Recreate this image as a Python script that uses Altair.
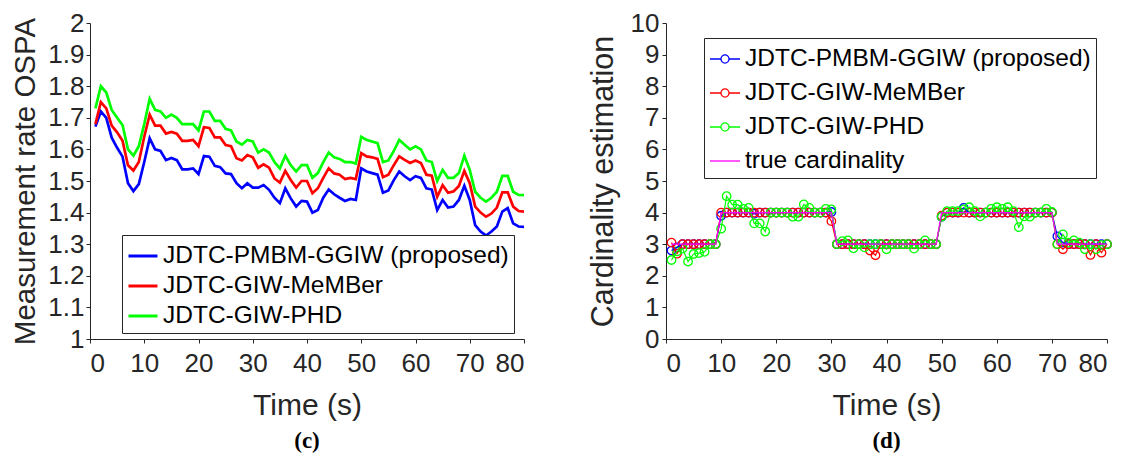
import altair as alt
import pandas as pd

time = list(range(1, 81))

ospa_pmbm = [1.672, 1.72, 1.70, 1.637, 1.605, 1.577, 1.493, 1.468, 1.49, 1.56,
             1.635, 1.60, 1.595, 1.566, 1.573, 1.566, 1.537, 1.537, 1.54, 1.522,
             1.579, 1.577, 1.548, 1.544, 1.524, 1.522, 1.493, 1.477, 1.493, 1.479,
             1.479, 1.487, 1.472, 1.447, 1.43, 1.477, 1.445, 1.419, 1.437, 1.435,
             1.40, 1.408, 1.447, 1.473, 1.458, 1.447, 1.437, 1.443, 1.44, 1.54,
             1.53, 1.525, 1.52, 1.463, 1.47, 1.503, 1.53, 1.515, 1.503, 1.515,
             1.51, 1.477, 1.473, 1.408, 1.44, 1.416, 1.419, 1.44, 1.485, 1.44,
             1.36, 1.34, 1.327, 1.34, 1.356, 1.403, 1.414, 1.366, 1.356, 1.355]
ospa_member = [1.68, 1.75, 1.73, 1.675, 1.654, 1.627, 1.55, 1.533, 1.56, 1.64,
               1.71, 1.675, 1.675, 1.65, 1.655, 1.65, 1.627, 1.627, 1.63, 1.61,
               1.67, 1.668, 1.638, 1.638, 1.614, 1.61, 1.572, 1.565, 1.582, 1.575,
               1.542, 1.553, 1.542, 1.508, 1.495, 1.532, 1.503, 1.479, 1.50, 1.50,
               1.461, 1.477, 1.51, 1.54, 1.524, 1.52, 1.506, 1.51, 1.506, 1.588,
               1.578, 1.575, 1.57, 1.512, 1.52, 1.55, 1.578, 1.567, 1.557, 1.565,
               1.557, 1.52, 1.517, 1.45, 1.487, 1.463, 1.467, 1.484, 1.532, 1.493,
               1.419, 1.40, 1.387, 1.397, 1.416, 1.464, 1.464, 1.419, 1.405, 1.403]
ospa_phd = [1.73, 1.80, 1.78, 1.725, 1.70, 1.677, 1.60, 1.58, 1.61, 1.68,
            1.76, 1.725, 1.72, 1.70, 1.71, 1.70, 1.68, 1.68, 1.68, 1.66,
            1.72, 1.72, 1.69, 1.69, 1.665, 1.66, 1.625, 1.615, 1.63, 1.625,
            1.59, 1.60, 1.59, 1.56, 1.54, 1.58, 1.55, 1.53, 1.55, 1.55,
            1.51, 1.525, 1.56, 1.59, 1.575, 1.57, 1.56, 1.56, 1.555, 1.64,
            1.63, 1.625, 1.62, 1.56, 1.565, 1.595, 1.63, 1.615, 1.60, 1.61,
            1.60, 1.565, 1.56, 1.50, 1.535, 1.51, 1.51, 1.525, 1.58, 1.535,
            1.466, 1.447, 1.435, 1.447, 1.466, 1.516, 1.516, 1.466, 1.456, 1.455]

card_true = [3, 3, 3, 3, 3, 3, 3, 3, 3, 4,
             4, 4, 4, 4, 4, 4, 4, 4, 4, 4,
             4, 4, 4, 4, 4, 4, 4, 4, 4, 4,
             3, 3, 3, 3, 3, 3, 3, 3, 3, 3,
             3, 3, 3, 3, 3, 3, 3, 3, 3, 4,
             4, 4, 4, 4, 4, 4, 4, 4, 4, 4,
             4, 4, 4, 4, 4, 4, 4, 4, 4, 4,
             3, 3, 3, 3, 3, 3, 3, 3, 3, 3]
card_pmbm = [2.8, 2.9, 3, 3, 3, 3, 3, 3, 3, 3.9,
             4, 4, 4, 4, 4, 3.96, 4, 4, 4, 4,
             4, 4, 4, 4, 4, 4, 4, 4, 4, 4.02,
             3, 3, 3, 3, 3, 3, 3, 3, 3, 3,
             3, 3, 3, 3, 3, 3, 3, 3, 3, 3.87,
             4, 4, 4, 4.15, 4, 4, 4, 4, 4, 4,
             4, 4, 4, 4, 4, 4, 4, 4, 4, 4,
             3.25, 3.05, 3, 3, 3, 3, 3, 3, 3, 3]
card_member = [3.05, 2.7, 3, 3, 3, 3, 3, 3, 3, 4,
               4, 4, 4, 4, 4, 4, 4, 4, 4, 4,
               4, 4, 4, 4, 4, 4, 4, 4, 4, 3.73,
               3, 3, 3, 3, 3, 3, 2.8, 2.65, 3, 3,
               3, 3, 3, 3, 3, 3, 3, 3, 3, 3.9,
               4, 4, 4, 4, 4, 4, 4, 4, 4, 4,
               4, 4, 4, 4, 4, 4, 4, 4, 4, 4,
               3, 2.84, 3, 3, 3, 3, 2.66, 3, 2.73, 3]
card_phd = [2.5, 2.77, 2.86, 2.45, 2.69, 2.72, 2.76, 3.0, 3.0, 3.49,
            4.52, 4.25, 4.25, 4.12, 4.15, 3.66, 3.66, 3.4, 4.0, 4.0,
            4.0, 4.0, 3.87, 3.87, 4.26, 4.15, 4.0, 4.0, 4.12, 4.1,
            3.0, 3.1, 3.12, 2.87, 3.0, 2.9, 3.0, 3.0, 3.0, 2.84,
            3.0, 3.0, 3.0, 3.0, 2.86, 3.0, 3.12, 3.0, 3.0, 3.87,
            4.05, 4.05, 4.05, 4.1, 4.17, 4.05, 3.88, 4.0, 4.12, 4.17,
            4.12, 4.17, 4.05, 3.54, 3.88, 3.87, 4.0, 4.0, 4.12, 4.02,
            3.0, 3.31, 3.05, 3.12, 3.05, 2.84, 3.0, 2.84, 2.97, 3.0]

names = ["JDTC-PMBM-GGIW (proposed)", "JDTC-GIW-MeMBer", "JDTC-GIW-PHD", "true cardinality"]
colors = ["#0000ff", "#ff0000", "#00ff00", "#ff00ff"]
x_ticks = [0, 10, 20, 30, 40, 50, 60, 70, 80]
ospa_ticks = [1.0, 1.1, 1.2, 1.3, 1.4, 1.5, 1.6, 1.7, 1.8, 1.9, 2.0]
card_ticks = [0, 1, 2, 3, 4, 5, 6, 7, 8, 9, 10]

FONT = "Liberation Sans"
INK = "#262626"

ospa_df = pd.DataFrame({
    "t": time * 3,
    "v": ospa_pmbm + ospa_member + ospa_phd,
    "s": [names[0]] * 80 + [names[1]] * 80 + [names[2]] * 80,
    "o": [0] * 80 + [1] * 80 + [2] * 80,
})
card_df = pd.DataFrame({
    "t": time * 4,
    "v": card_pmbm + card_member + card_phd + card_true,
    "s": [names[0]] * 80 + [names[1]] * 80 + [names[2]] * 80 + [names[3]] * 80,
    "o": [0] * 80 + [1] * 80 + [2] * 80 + [3] * 80,
})


def x_axis():
    return alt.Axis(values=x_ticks, title="Time (s)", tickSize=4, labelPadding=7,
                    titlePadding=14, titleFontSize=30, labelFontSize=26)


def caption(text):
    return alt.TitleParams(text, orient="bottom", font="Liberation Serif", fontSize=23,
                           fontWeight="bold", color="black", anchor="middle",
                           frame="group", offset=10)


left_legend = alt.Legend(
    title=None, orient="none", legendX=32, legendY=212,
    symbolType="stroke", symbolSize=841, symbolStrokeWidth=3,
    labelFont=FONT, labelFontSize=24.5, labelColor="black", labelLimit=1000,
    labelOffset=4, padding=5, rowPadding=2,
    strokeColor=INK, fillColor="white", cornerRadius=0,
)

left = alt.Chart(ospa_df).mark_line(strokeWidth=2.7, clip=True).encode(
    x=alt.X("t:Q", scale=alt.Scale(domain=[0, 80], nice=False), axis=x_axis()),
    y=alt.Y("v:Q", scale=alt.Scale(domain=[1, 2], nice=False),
            axis=alt.Axis(values=ospa_ticks, format=".1~f", title="Measurement rate OSPA",
                          tickSize=4, labelPadding=2, titlePadding=7,
                          titleFontSize=29.5, labelFontSize=26)),
    color=alt.Color("s:N", scale=alt.Scale(domain=names[:3], range=colors[:3]), legend=left_legend),
    order="o:Q",
).properties(width=434, height=316, title=caption("(c)"))

# legend symbol: short line with an open circle marker; plain line for the truth
mk_path = "M-1,0H-0.27M0.27,0A0.27,0.27,0,1,1,-0.27,0A0.27,0.27,0,1,1,0.27,0M0.27,0H1"
line_path = "M-1,0H1"
symbol_expr = "datum.value === '" + names[3] + "' ? '" + line_path + "' : '" + mk_path + "'"

right_legend = alt.Legend(
    title=None, orient="none", legendX=38, legendY=15,
    symbolType=alt.ExprRef(expr=symbol_expr),
    symbolSize=900, symbolStrokeWidth=1.3, symbolFillColor="transparent",
    labelFont=FONT, labelFontSize=24.5, labelColor="black", labelLimit=1000,
    labelOffset=4, padding=5, rowPadding=6,
    strokeColor=INK, fillColor="white", cornerRadius=0,
)

color_scale = alt.Scale(domain=names, range=colors)
x_r = alt.X("t:Q", scale=alt.Scale(domain=[0, 80], nice=False), axis=x_axis())
y_r = alt.Y("v:Q", scale=alt.Scale(domain=[0, 10], nice=False),
            axis=alt.Axis(values=card_ticks, title="Cardinality estimation",
                          tickSize=4, labelPadding=3, titlePadding=12,
                          titleFontSize=30.5, labelFontSize=26))

r_lines = alt.Chart(card_df).mark_line(strokeWidth=1.2).encode(
    x=x_r, y=y_r, color=alt.Color("s:N", scale=color_scale, legend=None), order="o:Q")
r_points = alt.Chart(card_df).transform_filter(
    alt.datum.o < 3
).mark_point(filled=False, size=72, strokeWidth=1.3, opacity=1).encode(
    x=x_r, y=y_r, color=alt.Color("s:N", scale=color_scale, legend=right_legend))

right = alt.layer(r_points, r_lines).properties(
    width=441, height=316, title=caption("(d)"))

chart = alt.hconcat(left, right, spacing=63).resolve_scale(
    color="independent"
).resolve_legend(
    color="independent"
).properties(padding={"left": 2, "top": 2, "right": 0, "bottom": 0}).configure_view(
    strokeWidth=0
).configure_axis(
    labelFont=FONT, titleFont=FONT, labelColor=INK, titleColor=INK,
    titleFontWeight="normal", domainColor=INK, tickColor=INK, grid=False,
    domainWidth=1, tickWidth=1, titleLimit=1000,
)

chart.save("out.html", embed_options={"renderer": "svg", "actions": False})
